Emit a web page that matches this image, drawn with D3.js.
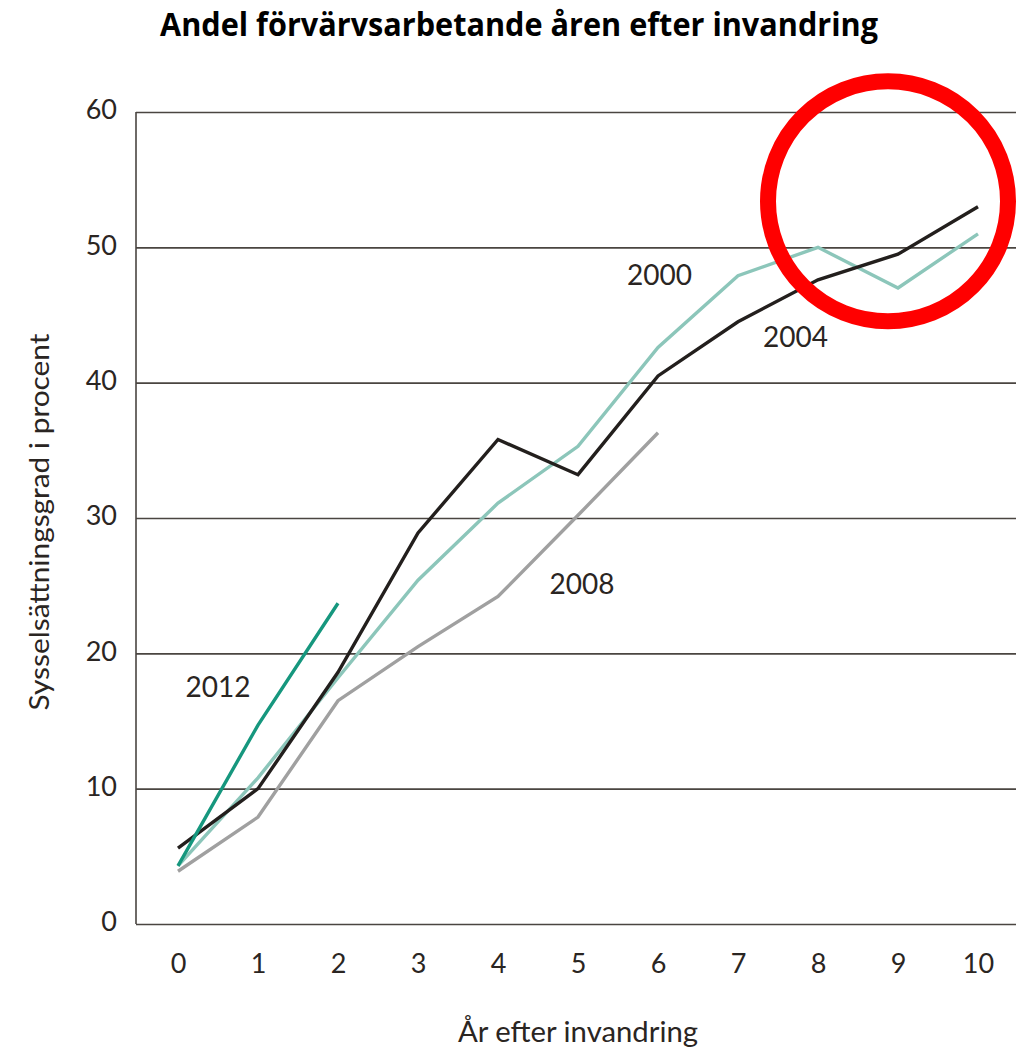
<!DOCTYPE html>
<html>
<head>
<meta charset="utf-8">
<style>
	body { margin: 0; background: #fff; }
	svg { position: absolute; top: 0; left: 0; }
	.grid line { stroke: #4a4541; stroke-width: 1.6px; }
	.tick text { font-family: Lato, sans-serif; font-size: 27px; fill: #2a2522; }
	.serie { fill: none; stroke-width: 3.4px; stroke-linejoin: miter; }
	.lbl { font-family: Lato, sans-serif; font-size: 28px; fill: #2a2522; }
</style>
<script src="https://cdnjs.cloudflare.com/ajax/libs/d3/7.8.5/d3.min.js"></script>
</head>
<body>
<svg width="1016" height="1050"></svg>
<script>
// years after immigration
var years = [0, 1, 2, 3, 4, 5, 6, 7, 8, 9, 10];
var yTicks = [0, 10, 20, 30, 40, 50, 60];

// employment rate per cohort (percent)
var v2000 = [4.3, 10.8, 18.2, 25.4, 31.1, 35.3, 42.6, 47.9, 50.0, 47.0, 51.0];
var v2004 = [5.6, 10.0, 18.6, 28.9, 35.8, 33.2, 40.5, 44.5, 47.6, 49.5, 53.0];
var v2008 = [3.9, 7.9, 16.5, 20.5, 24.2, 30.2, 36.3];
var v2012 = [4.3, 14.7, 23.7];

var series = [
	{ name: "2008", values: v2008, color: "#a0a0a0" },
	{ name: "2000", values: v2000, color: "#8cc6ba" },
	{ name: "2004", values: v2004, color: "#231f1d" },
	{ name: "2012", values: v2012, color: "#16977e" }
];

// where the cohort names sit (data coords, baseline)
var labels = [
	{ text: "2000", x: 6.02, y: 47.2 },
	{ text: "2004", x: 7.72, y: 42.6 },
	{ text: "2008", x: 5.05, y: 24.4 },
	{ text: "2012", x: 0.5, y: 16.8 }
];

var svg = d3.select("svg"),
	width = +svg.attr("width"),
	height = +svg.attr("height");

var x = d3.scaleLinear().domain([0, 10]).range([178, 978]);
var y = d3.scaleLinear().domain([0, 60]).range([924, 112]);

// title
svg.append("text")
	.attr("x", 519).attr("y", 36)
	.attr("text-anchor", "middle")
	.attr("textLength", 718).attr("lengthAdjust", "spacingAndGlyphs")
	.style("font-family", "'Open Sans', sans-serif")
	.style("font-weight", "bold")
	.style("font-size", "32px")
	.style("fill", "#000")
	.text("Andel förvärvsarbetande åren efter invandring");

// horizontal grid lines + y labels
var yAxis = d3.axisLeft(y).tickValues(yTicks).tickSize(-(width - 136)).tickPadding(19);
var gy = svg.append("g").attr("class", "grid").attr("transform", "translate(136,0)").call(yAxis);
gy.select(".domain").remove();
gy.selectAll(".tick text").attr("dy", "0.25em");

// left axis line
svg.append("g").attr("class", "grid").append("line")
	.attr("x1", 136).attr("x2", 136).attr("y1", y(60)).attr("y2", y(0));

// x labels
var xAxis = d3.axisBottom(x).tickValues(years).tickSize(0).tickPadding(30);
var gx = svg.append("g").attr("class", "grid").attr("transform", "translate(0," + y(0) + ")").call(xAxis);
gx.select(".domain").remove();

// lines
var line = d3.line()
	.x(function(d, i) { return x(years[i]); })
	.y(function(d) { return y(d); });

svg.selectAll(".serie").data(series).enter()
	.append("path").attr("class", "serie")
	.attr("stroke", function(d) { return d.color; })
	.attr("d", function(d) { return line(d.values); });

svg.selectAll(".lbl").data(labels).enter()
	.append("text").attr("class", "lbl")
	.attr("text-anchor", "middle")
	.attr("x", function(d) { return x(d.x); })
	.attr("y", function(d) { return y(d.y); })
	.text(function(d) { return d.text; });

// axis titles
svg.append("text")
	.attr("transform", "translate(49,522) rotate(-90)")
	.attr("text-anchor", "middle")
	.attr("textLength", 377).attr("lengthAdjust", "spacingAndGlyphs")
	.style("font-family", "Lato, sans-serif").style("font-size", "27px").style("fill", "#2a2522")
	.text("Sysselsättningsgrad i procent");

svg.append("text")
	.attr("x", 578).attr("y", 1042)
	.attr("text-anchor", "middle")
	.attr("textLength", 240).attr("lengthAdjust", "spacingAndGlyphs")
	.style("font-family", "Lato, sans-serif").style("font-size", "28px").style("fill", "#2a2522")
	.text("År efter invandring");

// red highlight ring
svg.append("circle")
	.attr("cx", x(8.875)).attr("cy", y(53.4))
	.attr("r", 120)
	.attr("fill", "none")
	.attr("stroke", "#ff0000")
	.attr("stroke-width", 16);
</script>
</body>
</html>
